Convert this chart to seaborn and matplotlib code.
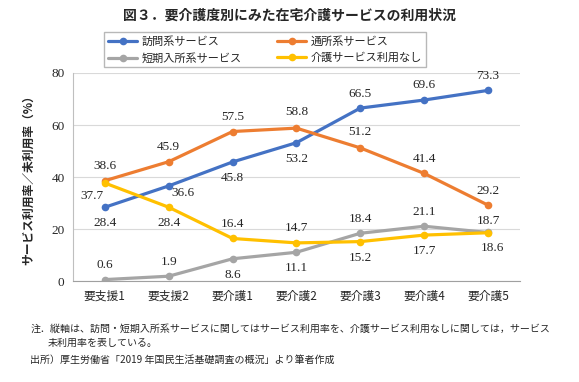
import pandas as pd
import seaborn as sns
import matplotlib.pyplot as plt

# data
levels = ["要支援1", "要支援2", "要介護1", "要介護2", "要介護3", "要介護4", "要介護5"]
houmon = [28.4, 36.6, 45.8, 53.2, 66.5, 69.6, 73.3]
tsusho = [38.6, 45.9, 57.5, 58.8, 51.2, 41.4, 29.2]
tanki = [0.6, 1.9, 8.6, 11.1, 18.4, 21.1, 18.7]
nashi = [37.7, 28.4, 16.4, 14.7, 15.2, 17.7, 18.6]
series_names = ["訪問系サービス", "通所系サービス", "短期入所系サービス", "介護サービス利用なし"]
colors = ["#4472C4", "#ED7D31", "#A5A5A5", "#FFC000"]

rows = []
for name, vals in zip(series_names, [houmon, tsusho, tanki, nashi]):
    for i, v in enumerate(vals):
        rows.append({"level": levels[i], "x": i, "value": v, "series": name})
df = pd.DataFrame(rows)

sns.set_style("white")
plt.rcParams['font.family'] = ['Noto Sans CJK JP', 'DejaVu Sans']

fig = plt.figure(figsize=(5.79, 3.82), dpi=100)
ax = fig.add_axes([0.126, 0.264, 0.772, 0.545])

sns.lineplot(data=df, x="x", y="value", hue="series", hue_order=series_names,
             palette=colors, marker="o", markersize=5.5, markeredgewidth=0,
             linewidth=2.3, ax=ax, legend=True)

# label offsets (points): blue, orange, gray, yellow
U, D = 10.5, -11.5
offs = {
    "訪問系サービス": [(0, D), (10, -5), (0, D), (0, D), (0, U), (0, U), (0, U)],
    "通所系サービス": [(0, U), (0, U), (0, U), (0, 11.5), (0, 11.5), (0, U), (0, U)],
    "短期入所系サービス": [(0, U), (0, U), (0, D), (0, D), (0, U), (0, U), (0, 8.5)],
    "介護サービス利用なし": [(-9.5, -9.5), (0, D), (0, U), (0, U), (0, D), (0, D), (3.5, -11)],
}
for name, vals in zip(series_names, [houmon, tsusho, tanki, nashi]):
    for i, v in enumerate(vals):
        ax.annotate(f"{v:.1f}", (i, v), xytext=offs[name][i], textcoords="offset points",
                    ha="center", va="center", fontsize=9.5, family="Liberation Serif")

ax.set_xlim(-0.5, 6.5)
ax.set_ylim(0, 80)
ax.set_yticks([0, 20, 40, 60, 80])
ax.set_xticks(range(7))
ax.set_xticklabels(levels, fontsize=8.5)
for t in ax.get_yticklabels():
    t.set_family("Liberation Serif")
    t.set_fontsize(9.5)
ax.tick_params(axis="both", length=0, pad=6)
ax.yaxis.grid(True, color="#D9D9D9", linewidth=0.8)
ax.set_axisbelow(True)
for s in ["top", "right"]:
    ax.spines[s].set_visible(False)
ax.spines["left"].set_color("#BFBFBF")
ax.spines["bottom"].set_color("#A0A0A0")
ax.set_xlabel("")
ax.set_ylabel("サービス利用率／未利用率（%）", fontsize=8.5, fontweight="bold", labelpad=12)

# legend filled row by row
h, l = ax.get_legend_handles_labels()
ax.get_legend().remove()
order = [0, 2, 1, 3]
fig.legend([h[i] for i in order], [l[i] for i in order], loc="center",
           bbox_to_anchor=(0.458, 0.870), ncol=2, fontsize=8,
           frameon=True, fancybox=False, edgecolor="#A6A6A6", columnspacing=3.2,
           handlelength=2.6, handletextpad=0.4, borderpad=0.35, labelspacing=0.55,
           borderaxespad=0)

fig.text(0.5, 0.96, "図３．要介護度別にみた在宅介護サービスの利用状況", ha="center", va="center",
         fontsize=10, fontweight="bold")
fig.text(0.052, 0.140, "注．縦軸は、訪問・短期入所系サービスに関してはサービス利用率を、介護サービス利用なしに関しては，サービス",
         fontsize=7.2, va="center")
fig.text(0.083, 0.103, "未利用率を表している。", fontsize=7.2, va="center")
fig.text(0.052, 0.057, "出所）厚生労働省「2019 年国民生活基礎調査の概況」より筆者作成", fontsize=7.2, va="center")

fig.savefig("out.png", dpi=100)
